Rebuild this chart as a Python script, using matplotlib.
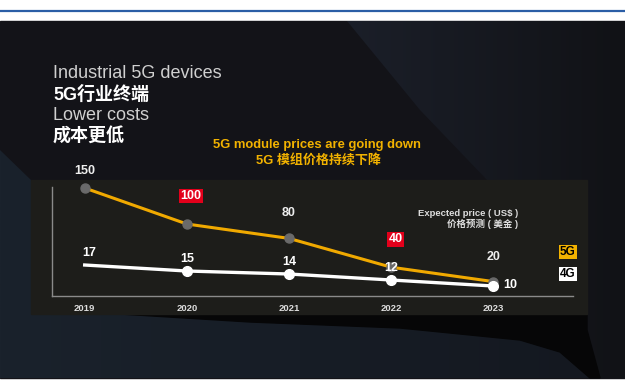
import numpy as np
import matplotlib.pyplot as plt
from matplotlib.patches import Rectangle, Polygon
from matplotlib.colors import LinearSegmentedColormap

plt.rcParams['font.family'] = ['Liberation Sans', 'Noto Sans CJK SC', 'DejaVu Sans']

years = [2019, 2020, 2021, 2022, 2023]
price_5g = [150, 100, 80, 40, 20]
price_4g = [17, 15, 14, 12, 10]
highlight_5g = [False, True, False, True, False]

W, H = 625, 387
fig = plt.figure(figsize=(W / 100, H / 100), dpi=100)
fig.patch.set_facecolor('white')

# background drawing layer in pixel coordinates
bg = fig.add_axes([0, 0, 1, 1])
bg.set_xlim(0, W)
bg.set_ylim(H, 0)
bg.axis('off')


def gradient_patch(points, c0, c1, x0, x1, z):
    """Fill a polygon with a left-to-right colour gradient."""
    poly = Polygon(points, closed=True, fc='none', ec='none')
    bg.add_patch(poly)
    cmap = LinearSegmentedColormap.from_list('g', [c0, c1])
    grad = np.linspace(0, 1, 256).reshape(1, -1)
    im = bg.imshow(grad, cmap=cmap, extent=[x0, x1, 378, 21], aspect='auto',
                   zorder=z, interpolation='bilinear')
    im.set_clip_path(poly)


bg.plot([0, W], [11, 11], color='#2b5ea6', lw=1.6)
bg.add_patch(Rectangle((0, 21), W, 357, color='#131318', zorder=0))
# lighter slanted panel at the top right
gradient_patch([(347, 21), (625, 21), (625, 378), (600, 378), (587, 330),
                (587, 300), (540, 240), (487, 180), (420, 110)],
               '#1b1f29', '#111216', 347, 625, 0.5)
# bluish bottom area
gradient_patch([(0, 150), (31, 180), (31, 314), (120, 314), (250, 322), (400, 328),
                (520, 340), (560, 352), (590, 378), (0, 378)],
               '#1a222c', '#141820', 0, 600, 0.5)
# dark swoosh under the chart panel
bg.add_patch(Polygon([(120, 314), (587, 314), (587, 330), (600, 378), (590, 378),
                      (560, 352), (520, 340), (400, 328), (250, 322)],
                     closed=True, color='#060607', zorder=0.6))
bg.add_patch(Rectangle((31, 180), 556, 134, color='#1d1d1a', zorder=1))

# titles
bg.text(53, 73, 'Industrial 5G devices', color='#d0d0d0', fontsize=13, va='center')
bg.text(53, 95, '5G行业终端', color='white', fontsize=13, fontweight='bold', va='center')
bg.text(53, 116, 'Lower costs', color='#d0d0d0', fontsize=13, va='center')
bg.text(53, 137, '成本更低', color='white', fontsize=13, fontweight='bold', va='center')

bg.text(317, 145, '5G module prices are going down', color='#f2b200', fontsize=9.4,
        fontweight='bold', ha='center', va='center')
bg.text(318, 161, '5G 模组价格持续下降', color='#f2b200', fontsize=9.4,
        fontweight='bold', ha='center', va='center')

bg.text(518, 213, 'Expected price ( US$ )', color='#dddddd', fontsize=6.8,
        fontweight='bold', ha='right', va='center')
bg.text(518, 224, '价格预测 ( 美金 )', color='#dddddd', fontsize=6.8,
        fontweight='bold', ha='right', va='center')

bg.text(568, 252, '5G', color='black', fontsize=8.5, fontweight='bold', ha='center', va='center',
        bbox=dict(boxstyle='square,pad=0.12', fc='#f2b200', ec='none'))
bg.text(568, 274, '4G', color='black', fontsize=8.5, fontweight='bold', ha='center', va='center',
        bbox=dict(boxstyle='square,pad=0.12', fc='white', ec='none'))

# chart axes
ax = fig.add_axes([52 / W, 1 - 296 / H, (573 - 52) / W, (296 - 187) / H])
ax.set_facecolor('none')
ax.set_xlim(2018.68, 2023.78)
ax.set_ylim(0, 151.4)
for s in ['top', 'right']:
    ax.spines[s].set_visible(False)
for s in ['left', 'bottom']:
    ax.spines[s].set_color('#8a8a8a')
    ax.spines[s].set_linewidth(1)
ax.set_yticks([])
ax.set_xticks(years)
ax.set_xticklabels([str(y) for y in years], color='#dddddd', fontsize=6.8, fontweight='bold')
ax.tick_params(axis='x', length=0, pad=6)

ax.plot(years, price_5g, color='#f0a900', lw=2.2, marker='o', ms=6.5,
        mfc='#6a6a6a', mec='#6a6a6a', zorder=3, clip_on=False)

for i, (x, v) in enumerate(zip(years, price_5g)):
    dy = 12 if i == 0 else 18
    if highlight_5g[i]:
        ax.annotate(str(v), (x, v), xytext=(3, dy + 2), textcoords='offset points',
                    ha='center', va='center', color='white', fontsize=9, fontweight='bold',
                    bbox=dict(boxstyle='square,pad=0.1', fc='#e3001b', ec='none'))
    else:
        ax.annotate(str(v), (x, v), xytext=(0, dy), textcoords='offset points',
                    ha='center', va='center', color='#eeeeee', fontsize=9, fontweight='bold')

ax2 = ax.twinx()
ax2.set_ylim(6.67, 6.67 + 109 / 3)
ax2.axis('off')
ax2.plot(years, price_4g, color='white', lw=2.4, marker='o', ms=7,
         mfc='white', mec='white', markevery=[1, 2, 3, 4], zorder=3, clip_on=False)

for i, (x, v) in enumerate(zip(years, price_4g)):
    if i == len(years) - 1:
        ax2.annotate(str(v), (x, v), xytext=(12, 1), textcoords='offset points',
                     ha='center', va='center', color='white', fontsize=9, fontweight='bold')
    else:
        ax2.annotate(str(v), (x, v), xytext=(3 if i == 0 else 0, 9), textcoords='offset points',
                     ha='center', va='center', color='white', fontsize=9, fontweight='bold')

fig.savefig('out.png', dpi=100, facecolor='white')
